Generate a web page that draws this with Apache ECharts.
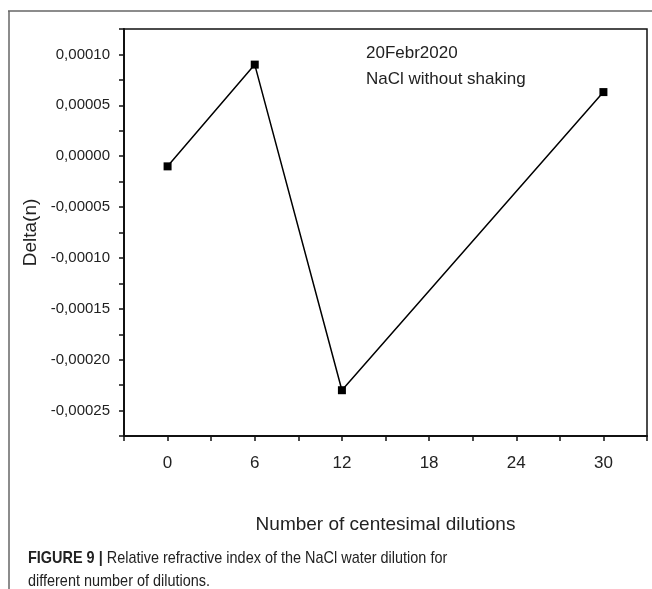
<!DOCTYPE html>
<html>
<head>
<meta charset="utf-8">
<script src="https://cdn.jsdelivr.net/npm/echarts@6/dist/echarts.min.js"></script>
<style>
  html, body { margin: 0; padding: 0; background: #fff; }
  #chart { width: 652px; height: 589px; }
</style>
</head>
<body>
<div id="chart"></div>
<script>
// dilutions (x) and measured delta of refractive index (y)
var dilutions = [0, 6, 12, 30];
var deltaN = [-0.00001, 0.00009, -0.00023, 0.000063];
var xTickLabels = [0, 6, 12, 18, 24, 30];
var yTickLabels = [-0.00025, -0.0002, -0.00015, -0.0001, -0.00005, 0, 0.00005, 0.0001];

var fontName = 'Arial, "Liberation Sans", sans-serif';

var points = [];
for (var i = 0; i < dilutions.length; i++) {
    points.push([dilutions[i], deltaN[i]]);
}

// y label text with a decimal comma
function yLabel(v) {
    for (var k = 0; k < yTickLabels.length; k++) {
        if (Math.abs(v - yTickLabels[k]) < 1e-9) {
            return v.toFixed(5).replace('.', ',').replace('-0,00000', '0,00000');
        }
    }
    return '';
}

function xLabel(v) {
    return xTickLabels.indexOf(Math.round(v)) >= 0 ? String(v) : '';
}

var myChart = echarts.init(document.getElementById('chart'));

myChart.setOption({
    animation: false,
    backgroundColor: '#fff',
    grid: {
        left: 124,
        top: 29,
        right: 5,
        bottom: 153,
        show: true,
        borderColor: '#111',
        borderWidth: 1.5
    },
    xAxis: {
        type: 'value',
        min: -3,
        max: 33,
        interval: 3,
        name: 'Number of centesimal dilutions',
        nameLocation: 'middle',
        nameGap: 79,
        nameTextStyle: { fontFamily: fontName, fontSize: 19, color: '#222' },
        axisLine: { onZero: false, lineStyle: { color: '#111', width: 2 } },
        axisTick: { length: 5, lineStyle: { color: '#111', width: 1.5 } },
        axisLabel: {
            margin: 19,
            fontFamily: fontName,
            fontSize: 17,
            color: '#222',
            formatter: xLabel
        },
        splitLine: { show: false }
    },
    yAxis: {
        type: 'value',
        min: -0.000275,
        max: 0.000125,
        interval: 0.000025,
        name: 'Delta(n)',
        nameLocation: 'middle',
        nameGap: 84,
        nameRotate: 90,
        nameTextStyle: { fontFamily: fontName, fontSize: 19, color: '#222' },
        axisLine: { onZero: false, lineStyle: { color: '#111', width: 2 } },
        axisTick: { length: 5, lineStyle: { color: '#111', width: 1.5 } },
        axisLabel: {
            margin: 14,
            fontFamily: fontName,
            fontSize: 15,
            color: '#222',
            formatter: yLabel
        },
        splitLine: { show: false }
    },
    series: [{
        type: 'line',
        data: points,
        symbol: 'rect',
        symbolSize: 8,
        lineStyle: { color: '#000', width: 1.5 },
        itemStyle: { color: '#000' }
    }],
    graphic: [
        // outer frame of the figure
        { type: 'line', shape: { x1: 8, y1: 11, x2: 652, y2: 11 }, style: { stroke: '#666', lineWidth: 1.5 } },
        { type: 'line', shape: { x1: 9, y1: 11, x2: 9, y2: 589 }, style: { stroke: '#666', lineWidth: 1.5 } },
        {
            type: 'text', left: 366, top: 45,
            style: { text: '20Febr2020', font: '17px ' + fontName, fill: '#222' }
        },
        {
            type: 'text', left: 366, top: 71,
            style: { text: 'NaCl without shaking', font: '17px ' + fontName, fill: '#222' }
        },
        {
            type: 'text', left: 28, top: 547, scaleX: 0.85,
            style: {
                text: '{b|FIGURE 9 |} Relative refractive index of the NaCl water dilution for\ndifferent number of dilutions.',
                font: '17px ' + fontName,
                fill: '#222',
                lineHeight: 23,
                rich: {
                    b: { fontWeight: 'bold', fontSize: 17, fontFamily: fontName, fill: '#222' }
                }
            }
        }
    ]
});
</script>
</body>
</html>
